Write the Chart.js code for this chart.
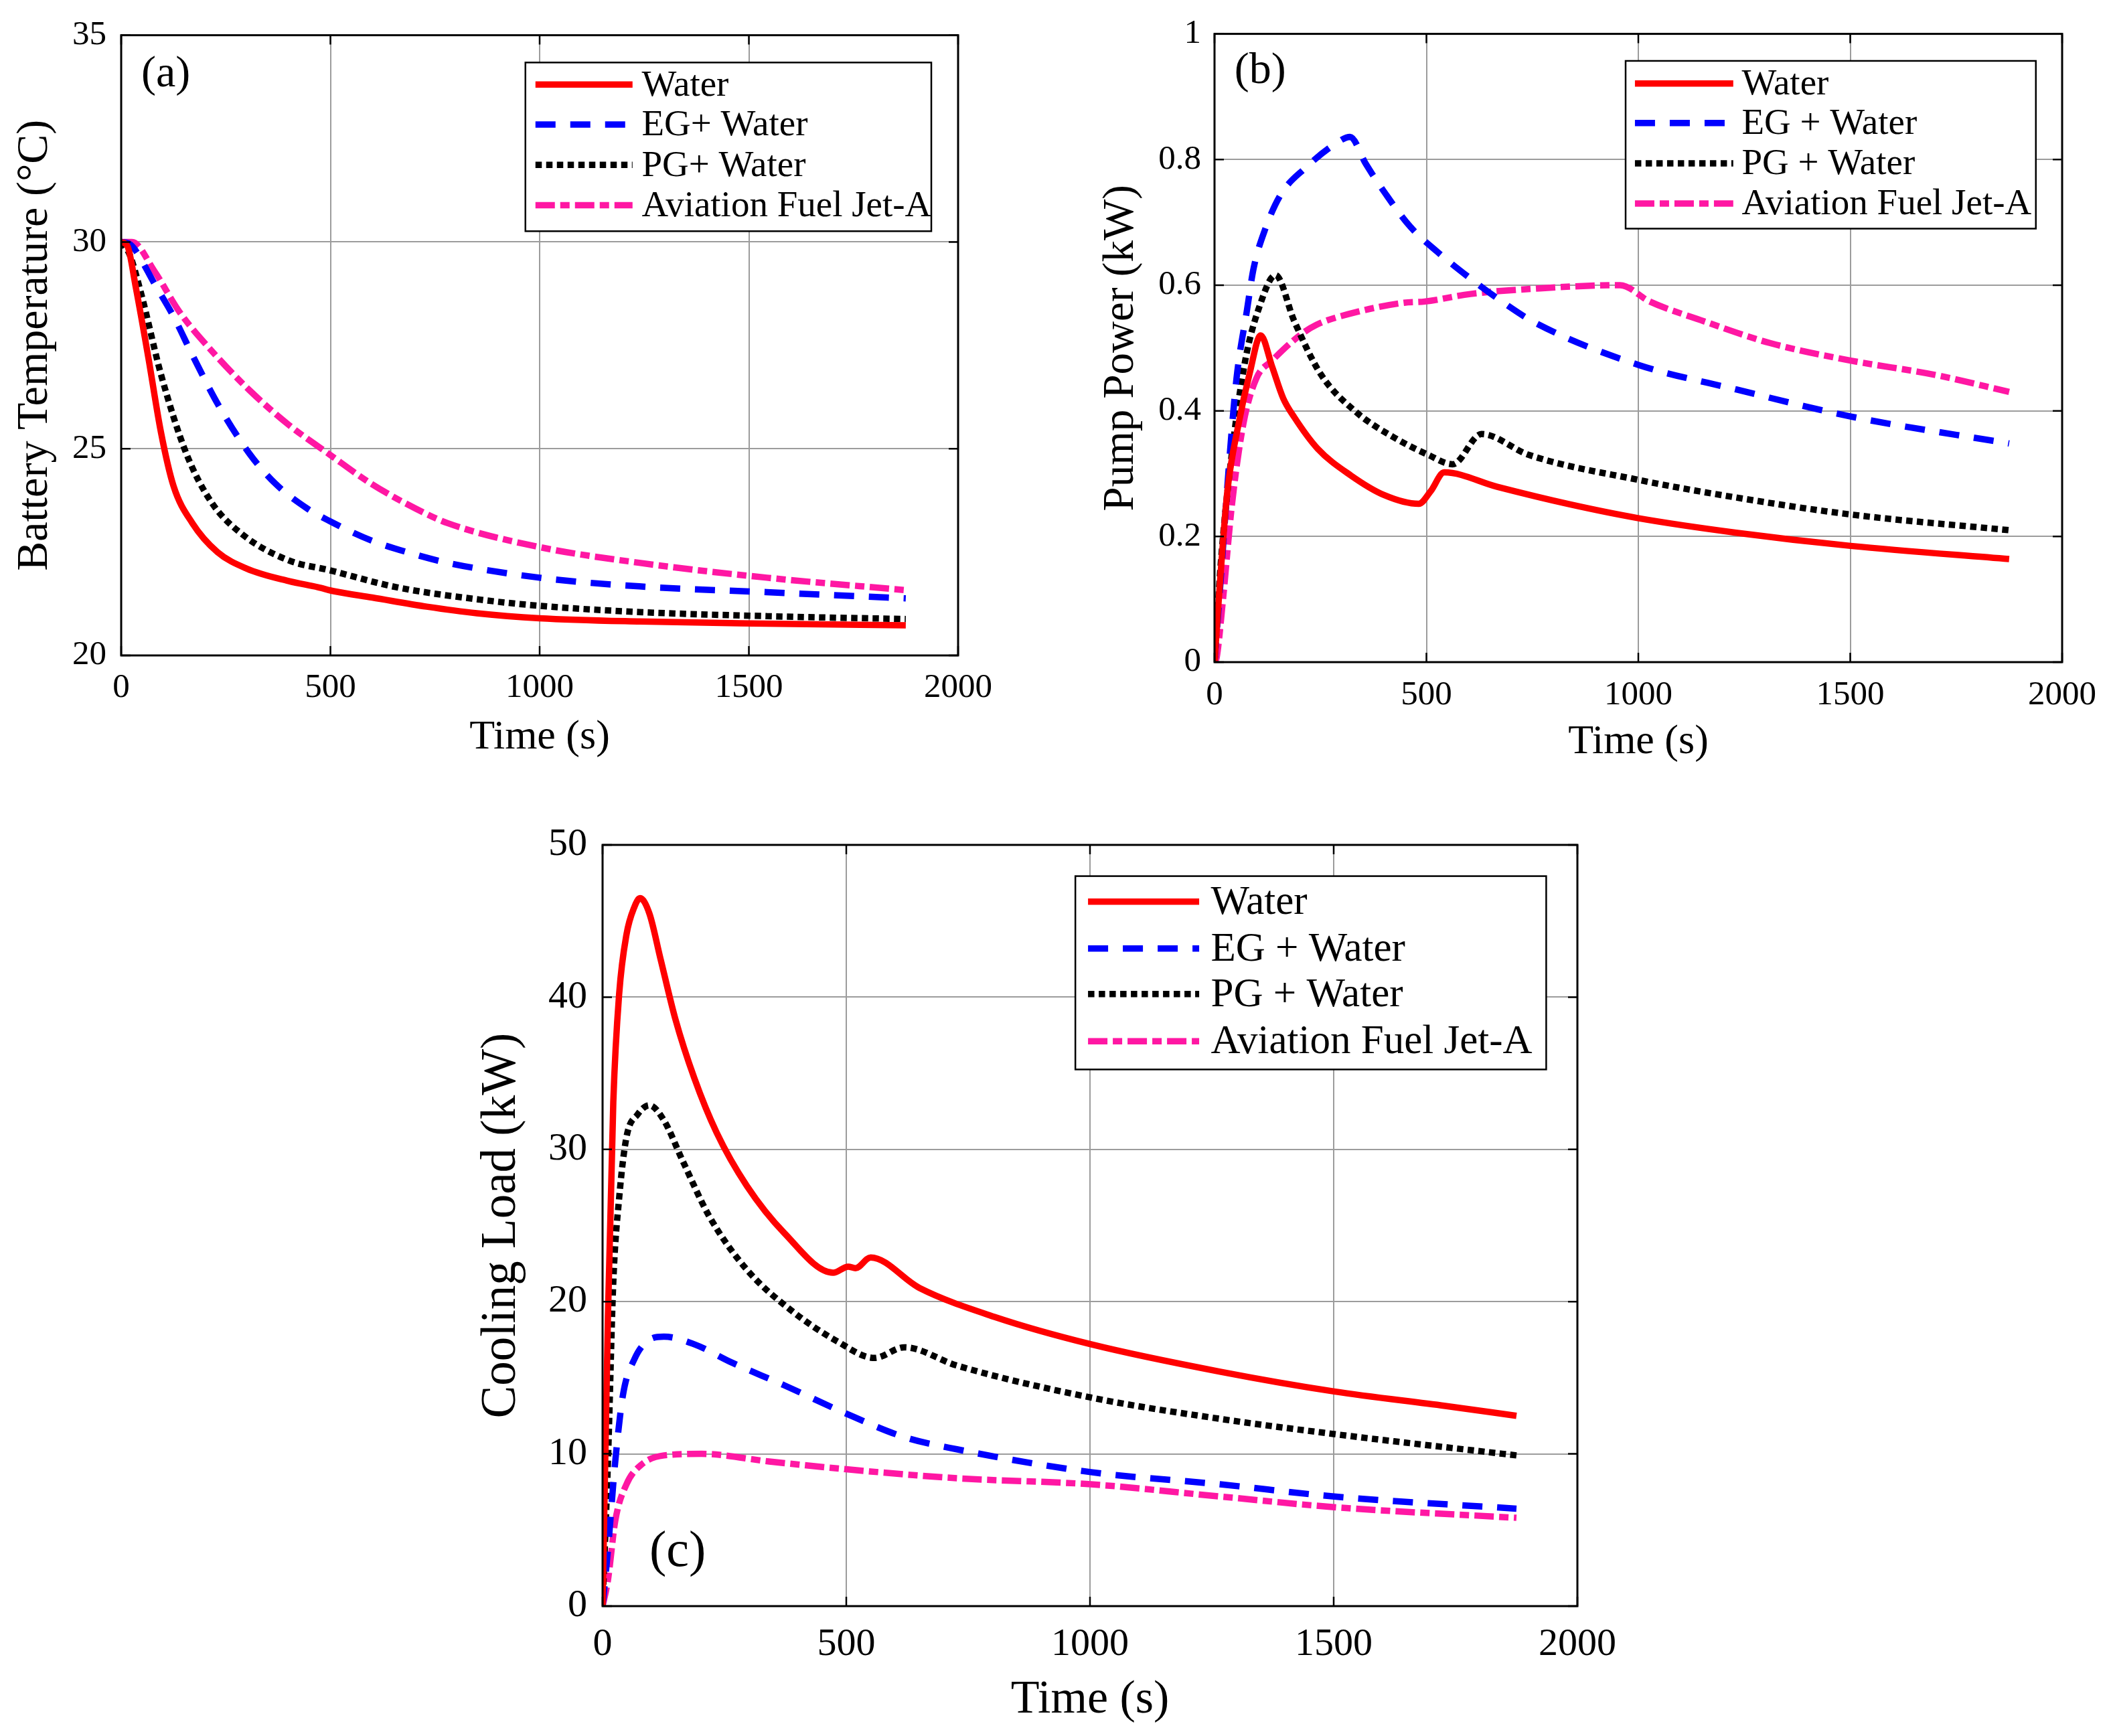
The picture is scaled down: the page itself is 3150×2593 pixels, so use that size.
<!DOCTYPE html>
<html>
<head>
<meta charset="utf-8">
<script src="https://cdn.jsdelivr.net/npm/chart.js@4.4.1/dist/chart.umd.min.js"></script>
<style>
  html, body { margin: 0; padding: 0; background: #fff; }
  #page { position: relative; width: 3150px; height: 2593px; background: #fff; overflow: hidden; }
  .panel { position: absolute; }
</style>
</head>
<body>
<div id="page">
  <div class="panel" style="left:0px;top:0px;"><canvas id="chartA" width="1500" height="1180"></canvas></div>
  <div class="panel" style="left:1600px;top:0px;"><canvas id="chartB" width="1550" height="1180"></canvas></div>
  <div class="panel" style="left:700px;top:1200px;"><canvas id="chartC" width="1750" height="1393"></canvas></div>
</div>
<script>
// Ticks
const timeTicks = [0, 500, 1000, 1500, 2000];
const aYTicks = [20, 25, 30, 35];
const bYTicks = [0, 0.2, 0.4, 0.6, 0.8, 1];
const cYTicks = [0, 10, 20, 30, 40, 50];

// (a) Battery temperature (°C)
const aWaterT = [0, 15, 35, 65, 95, 125, 170, 230, 300, 400, 470, 510, 600, 730, 850, 1000, 1240, 1540, 1875];
const aWater  = [30, 29.9, 28.9, 27.2, 25.4, 24.1, 23.2, 22.5, 22.1, 21.8, 21.65, 21.55, 21.4, 21.18, 21.02, 20.9, 20.82, 20.77, 20.73];
const aEgT = [0, 20, 34, 79, 125, 171, 232, 308, 369, 445, 498, 598, 689, 780, 1000, 1238, 1543, 1875];
const aEg  = [30, 29.95, 29.8, 29.0, 28.2, 27.25, 26.06, 24.86, 24.15, 23.55, 23.25, 22.78, 22.48, 22.24, 21.88, 21.67, 21.53, 21.38];
const aPgT = [0, 20, 49, 95, 155, 216, 293, 400, 498, 658, 857, 1000, 1238, 1543, 1875];
const aPg  = [30, 29.7, 28.7, 26.8, 24.9, 23.7, 22.9, 22.3, 22.06, 21.65, 21.35, 21.2, 21.05, 20.95, 20.88];
const aJetT = [0, 26, 79, 140, 216, 308, 400, 498, 598, 704, 780, 1000, 1238, 1543, 1875];
const aJet  = [30, 30, 29.3, 28.3, 27.37, 26.4, 25.58, 24.86, 24.15, 23.55, 23.2, 22.62, 22.24, 21.88, 21.58];

// (b) Pump power (kW)
const bWaterT = [0, 9, 30, 57, 83, 109, 136, 162, 188, 243, 322, 400, 482, 510, 542, 667, 839, 1001, 1231, 1501, 1875];
const bWater  = [0, 0.09, 0.27, 0.38, 0.46, 0.52, 0.47, 0.42, 0.39, 0.34, 0.297, 0.266, 0.252, 0.272, 0.302, 0.279, 0.251, 0.229, 0.206, 0.185, 0.164];
const bEgT = [0, 15, 36, 52, 77, 92, 120, 157, 215, 283, 320, 357, 404, 462, 526, 605, 678, 757, 1001, 1231, 1501, 1875];
const bEg  = [0, 0.135, 0.33, 0.452, 0.562, 0.626, 0.69, 0.745, 0.787, 0.824, 0.836, 0.793, 0.745, 0.693, 0.653, 0.61, 0.574, 0.54, 0.473, 0.434, 0.391, 0.348];
const bPgT = [0, 15, 46, 73, 104, 144, 188, 251, 336, 425, 504, 562, 630, 741, 1001, 1231, 1501, 1875];
const bPg  = [0, 0.159, 0.36, 0.482, 0.562, 0.616, 0.543, 0.458, 0.397, 0.357, 0.33, 0.315, 0.363, 0.33, 0.29, 0.262, 0.235, 0.21];
const bJetT = [0, 5, 20, 41, 68, 99, 136, 199, 241, 322, 447, 496, 604, 768, 957, 1027, 1153, 1310, 1501, 1702, 1875];
const bJet  = [0, 0.007, 0.1, 0.25, 0.379, 0.452, 0.48, 0.519, 0.537, 0.555, 0.572, 0.574, 0.586, 0.595, 0.6, 0.574, 0.543, 0.508, 0.48, 0.457, 0.43];

// (c) Cooling load (kW)
const cWaterT = [0, 11, 22, 34, 49, 65, 77, 96, 119, 149, 188, 234, 296, 373, 473, 504, 519, 550, 650, 804, 1002, 1267, 1501, 1729, 1875];
const cWater  = [0, 19, 33.1, 40.2, 44.1, 45.9, 46.5, 45.5, 42.5, 38.6, 34.7, 31.1, 27.6, 24.5, 21.9, 22.3, 22.2, 22.9, 20.9, 19.0, 17.2, 15.4, 14.1, 13.15, 12.5];
const cEgT = [0, 11, 26, 42, 65, 96, 126, 188, 265, 373, 496, 619, 727, 1002, 1267, 1501, 1875];
const cEg  = [0, 3.7, 9.5, 13.9, 16.2, 17.5, 17.7, 17.2, 16.0, 14.5, 12.7, 11.1, 10.3, 8.8, 8.0, 7.2, 6.4];
const cPgT = [0, 11, 22, 34, 49, 72, 96, 126, 165, 219, 296, 388, 481, 558, 619, 727, 1002, 1267, 1501, 1875];
const cPg  = [0, 9.5, 21.3, 26.8, 30.8, 32.3, 32.9, 31.9, 29.2, 25.6, 22.1, 19.4, 17.4, 16.3, 17.0, 15.8, 13.7, 12.3, 11.3, 9.9];
const cJetT = [0, 11, 26, 49, 80, 126, 203, 342, 496, 727, 1002, 1267, 1501, 1875];
const cJet  = [0, 1.7, 5.6, 8.0, 9.3, 9.9, 10.0, 9.5, 9.0, 8.4, 8.0, 7.2, 6.5, 5.8];

const FONT = "'Liberation Serif', 'DejaVu Serif', serif";

function pts(xs, ys) {
    return xs.map((x, i) => ({ x: x, y: ys[i] }));
}

// estilos de las cuatro curvas (agua, EG, PG, Jet-A)
function series(labels, sets) {
    const styles = [
        { borderColor: '#ff0000', borderDash: [] },
        { borderColor: '#0000ff', borderDash: [30, 22] },
        { borderColor: '#000000', borderDash: [9.5, 6.5] },
        { borderColor: '#ff17a3', borderDash: [29, 8, 14, 8] }
    ];
    return sets.map((s, i) => ({
        label: labels[i],
        data: pts(s[0], s[1]),
        borderColor: styles[i].borderColor,
        borderDash: styles[i].borderDash,
        borderWidth: 9.5,
        borderCapStyle: 'butt',
        borderJoinStyle: 'round',
        pointRadius: 0,
        fill: false,
        cubicInterpolationMode: 'monotone'
    }));
}

// marco, marcas interiores, leyenda y etiqueta del panel
const framePlugin = {
    id: 'frame',
    afterDatasetsDraw(chart, args, opts) {
        const { ctx, chartArea: a } = chart;
        const w = a.right - a.left, h = a.bottom - a.top;
        ctx.save();

        // leyenda
        const lg = opts.legend;
        const x0 = a.left + lg.box[0] * w, x1 = a.left + lg.box[1] * w;
        const y0 = a.top + lg.box[2] * h, y1 = a.top + lg.box[3] * h;
        ctx.fillStyle = '#fff';
        ctx.fillRect(x0, y0, x1 - x0, y1 - y0);
        ctx.lineWidth = 2.5;
        ctx.strokeStyle = '#000';
        ctx.setLineDash([]);
        ctx.strokeRect(x0, y0, x1 - x0, y1 - y0);
        chart.data.datasets.forEach((ds, i) => {
            const y = a.top + lg.rows[i] * h;
            ctx.beginPath();
            ctx.setLineDash(ds.borderDash);
            ctx.lineCap = 'butt';
            ctx.lineWidth = ds.borderWidth;
            ctx.strokeStyle = ds.borderColor;
            ctx.moveTo(a.left + lg.sample[0] * w, y);
            ctx.lineTo(a.left + lg.sample[1] * w, y);
            ctx.stroke();
            ctx.setLineDash([]);
            ctx.fillStyle = '#000';
            ctx.font = lg.fontSize + 'px ' + FONT;
            ctx.textAlign = 'left';
            ctx.textBaseline = 'middle';
            ctx.fillText(ds.label, a.left + lg.textX * w, y + 2);
        });

        // etiqueta (a), (b), (c)
        ctx.fillStyle = '#000';
        ctx.font = opts.tag.fontSize + 'px ' + FONT;
        ctx.textAlign = 'left';
        ctx.textBaseline = 'middle';
        ctx.fillText(opts.tag.text, a.left + opts.tag.x * w, a.top + opts.tag.y * h);

        // marcas hacia dentro
        const xs = chart.scales.x, ys = chart.scales.y;
        const tl = opts.tickLen;
        ctx.strokeStyle = '#000';
        ctx.lineWidth = 2.5;
        ctx.beginPath();
        xs.ticks.forEach(t => {
            const px = xs.getPixelForValue(t.value);
            ctx.moveTo(px, a.bottom); ctx.lineTo(px, a.bottom - tl);
            ctx.moveTo(px, a.top); ctx.lineTo(px, a.top + tl);
        });
        ys.ticks.forEach(t => {
            const py = ys.getPixelForValue(t.value);
            ctx.moveTo(a.left, py); ctx.lineTo(a.left + tl, py);
            ctx.moveTo(a.right, py); ctx.lineTo(a.right - tl, py);
        });
        ctx.stroke();

        // marco
        ctx.lineWidth = 3;
        ctx.strokeRect(a.left, a.top, w, h);
        ctx.restore();
    }
};

function makePanel(id, cfg) {
    const ctx = document.getElementById(id).getContext('2d');
    return new Chart(ctx, {
        type: 'line',
        data: { datasets: cfg.datasets },
        plugins: [framePlugin],
        options: {
            responsive: false,
            animation: false,
            devicePixelRatio: 1,
            layout: { padding: cfg.padding },
            scales: {
                x: {
                    type: 'linear',
                    min: 0, max: 2000,
                    afterBuildTicks: s => { s.ticks = timeTicks.map(v => ({ value: v })); },
                    afterFit: s => { s.height = cfg.xHeight; },
                    grid: { color: '#9c9c9c', lineWidth: 2, drawTicks: false },
                    border: { display: false },
                    ticks: {
                        autoSkip: false, maxRotation: 0,
                        padding: cfg.xTickPad,
                        color: '#000',
                        font: { family: FONT, size: cfg.tickSize },
                        callback: v => String(v)
                    },
                    title: {
                        display: true, text: 'Time (s)', color: '#000',
                        font: { family: FONT, size: cfg.titleSize },
                        padding: { top: 0, bottom: cfg.xTitlePad }
                    }
                },
                y: {
                    type: 'linear',
                    min: cfg.yMin, max: cfg.yMax,
                    afterBuildTicks: s => { s.ticks = cfg.yTicks.map(v => ({ value: v })); },
                    afterFit: s => { s.width = cfg.yWidth; },
                    grid: { color: '#9c9c9c', lineWidth: 2, drawTicks: false },
                    border: { display: false },
                    ticks: {
                        padding: cfg.yTickPad,
                        color: '#000',
                        font: { family: FONT, size: cfg.tickSize },
                        callback: v => String(v)
                    },
                    title: {
                        display: true, text: cfg.yTitle, color: '#000',
                        font: { family: FONT, size: cfg.yTitleSize },
                        padding: { top: cfg.yTitlePad, bottom: 0 }
                    }
                }
            },
            plugins: {
                legend: { display: false },
                tooltip: { enabled: false },
                frame: { legend: cfg.legend, tag: cfg.tag, tickLen: 14 }
            }
        }
    });
}

makePanel('chartA', {
    datasets: series(['Water', 'EG+ Water', 'PG+ Water', 'Aviation Fuel Jet-A'],
        [[aWaterT, aWater], [aEgT, aEg], [aPgT, aPg], [aJetT, aJet]]),
    yMin: 20, yMax: 35, yTicks: aYTicks,
    yTitle: 'Battery Temperature (\u00b0C)',
    padding: { left: 0, top: 52, right: 58, bottom: 0 },
    yWidth: 181, xHeight: 201,
    tickSize: 51, titleSize: 62, yTitleSize: 66,
    xTickPad: 18, yTickPad: 22, xTitlePad: 41, yTitlePad: 13,
    legend: { box: [0.483, 0.968, 0.044, 0.316], rows: [0.0795, 0.144, 0.209, 0.274], sample: [0.495, 0.611], textX: 0.622, fontSize: 55 },
    tag: { text: '(a)', x: 0.024, y: 0.064, fontSize: 66 }
});

makePanel('chartB', {
    datasets: series(['Water', 'EG + Water', 'PG + Water', 'Aviation Fuel Jet-A'],
        [[bWaterT, bWater], [bEgT, bEg], [bPgT, bPg], [bJetT, bJet]]),
    yMin: 0, yMax: 1, yTicks: bYTicks,
    yTitle: 'Pump Power (kW)',
    padding: { left: 0, top: 43, right: 70, bottom: 0 },
    yWidth: 214, xHeight: 191,
    tickSize: 51, titleSize: 62, yTitleSize: 65,
    xTickPad: 19, yTickPad: 20, xTitlePad: 34, yTitlePad: 36,
    legend: { box: [0.485, 0.969, 0.043, 0.31], rows: [0.079, 0.142, 0.206, 0.27], sample: [0.496, 0.612], textX: 0.622, fontSize: 55 },
    tag: { text: '(b)', x: 0.0235, y: 0.06, fontSize: 66 }
});

makePanel('chartC', {
    datasets: series(['Water', 'EG + Water', 'PG + Water', 'Aviation Fuel Jet-A'],
        [[cWaterT, cWater], [cEgT, cEg], [cPgT, cPg], [cJetT, cJet]]),
    yMin: 0, yMax: 50, yTicks: cYTicks,
    yTitle: 'Cooling Load (kW)',
    padding: { left: 0, top: 62, right: 94, bottom: 0 },
    yWidth: 200, xHeight: 194,
    tickSize: 58, titleSize: 70, yTitleSize: 73,
    xTickPad: 23, yTickPad: 23, xTitlePad: 11, yTitlePad: 6,
    legend: { box: [0.485, 0.968, 0.041, 0.295], rows: [0.0746, 0.136, 0.196, 0.258], sample: [0.498, 0.612], textX: 0.624, fontSize: 61 },
    tag: { text: '(c)', x: 0.048, y: 0.93, fontSize: 76 }
});
</script>
</body>
</html>
